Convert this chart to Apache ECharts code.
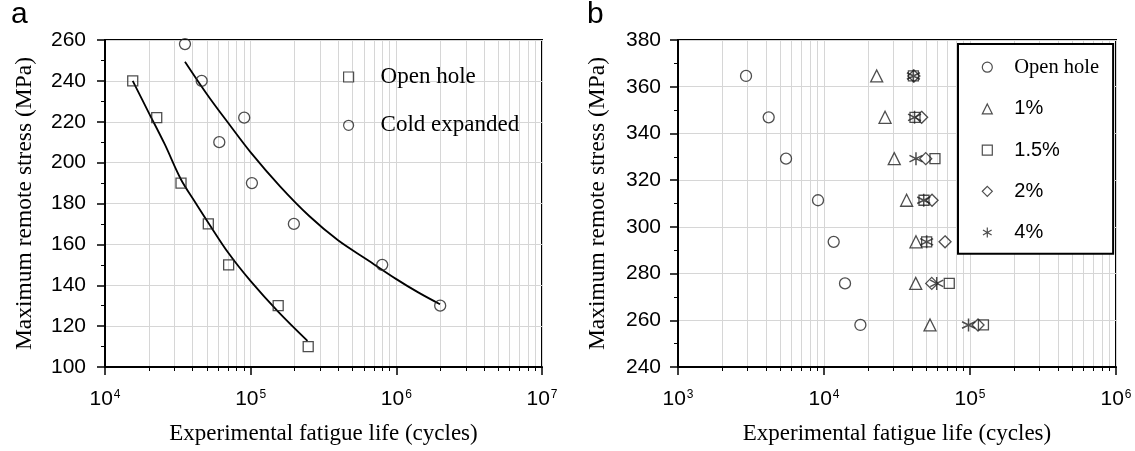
<!DOCTYPE html>
<html>
<head>
<meta charset="utf-8">
<script src="https://cdn.jsdelivr.net/npm/echarts@6/dist/echarts.min.js"></script>
<style>
  html, body { margin: 0; padding: 0; background: #fff; }
  #chart { width: 1135px; height: 451px; }
</style>
</head>
<body>
<div id="chart"></div>
<script>
// ---- Panel a: open hole vs. cold expanded specimens ----
const aOpenLife   = [15500, 22650, 33250, 51200, 70600, 154500, 248300];
const aOpenStress = [240, 222, 190, 170, 150, 130, 110];
const aColdLife   = [35400, 46100, 60900, 90300, 102000, 198000, 800000, 2000000];
const aColdStress = [258, 240, 210, 222, 190, 170, 150, 130];

// fitted S-N curves of panel a
const aOpenFitLife   = [15500, 19950, 25700, 33100, 41700, 51300, 70800, 100000, 154900, 245500];
const aOpenFitStress = [240, 224.5, 209, 192, 180.5, 170.5, 155.5, 142, 127, 112.8];
const aColdFitLife   = [35400, 50100, 70800, 100000, 158500, 251200, 398100, 631000, 1000000, 1413000, 1995000];
const aColdFitStress = [249.4, 233.5, 219, 205, 188.5, 174, 162, 152.5, 143, 136.5, 130.7];

// ---- Panel b: fatigue life per stress level and expansion degree ----
const bStress   = [364.6, 346.9, 329.2, 311.4, 293.6, 275.8, 258.0];
const bOpenHole = [2924, 4180, 5495, 9100, 11650, 13930, 17750];
const bExp1     = [22960, 26190, 30280, 36800, 42660, 42470, 53230];
const bExp15    = [40960, 42000, 57540, 48400, 50470, 72100, 123600];
const bExp2     = [41300, 46630, 49740, 54950, 67460, 54700, 113500];
const bExp4     = [40960, 41700, 42660, 48190, 50470, 59160, 97700];

// axis ranges
const aLifeRange   = [1e4, 1e7];
const aStressRange = [100, 260];
const bLifeRange   = [1e3, 1e6];
const bStressRange = [240, 380];
const stressStep   = 20;

const zip = (xs, ys) => xs.map((x, i) => [x, ys[i]]);

const SERIF = 'Liberation Serif';
const SANS = 'Liberation Sans';
const INK = '#000';
const MARK = '#222';
const GRIDC = '#d6d6d6';
const HOLLOW = 'rgba(255,255,255,0)';
const ASTERISK = 'path://M5,0L5,10M0.67,2.5L9.33,7.5M0.67,7.5L9.33,2.5';

function lifeAxis(gridIndex, range) {
  return {
    type: 'log', logBase: 10, gridIndex,
    min: range[0], max: range[1],
    name: 'Experimental fatigue life (cycles)',
    nameLocation: 'middle', nameGap: 55,
    nameTextStyle: { fontFamily: SERIF, fontSize: 23, color: INK },
    axisLine: { lineStyle: { color: INK, width: 2 } },
    axisTick: { length: 8, lineStyle: { color: INK, width: 1.5 } },
    minorTick: { show: true, splitNumber: 9, length: 4, lineStyle: { color: INK, width: 1 } },
    splitLine: { show: true, lineStyle: { color: GRIDC, width: 1 } },
    minorSplitLine: { show: true, lineStyle: { color: GRIDC, width: 1 } },
    axisLabel: {
      margin: 22, color: INK, fontFamily: SANS, fontSize: 21,
      formatter: v => '10{sup|' + Math.round(Math.log10(v)) + '}',
      rich: { sup: { fontFamily: SANS, fontSize: 12, color: INK, verticalAlign: 'top', padding: [0, 0, 0, 1] } }
    }
  };
}

function stressAxis(gridIndex, range, margin) {
  return {
    type: 'value', gridIndex,
    min: range[0], max: range[1], interval: stressStep,
    name: 'Maximum remote stress (MPa)',
    nameLocation: 'middle', nameGap: 68,
    nameTextStyle: { fontFamily: SERIF, fontSize: 23.5, color: INK },
    axisLine: { show: true, lineStyle: { color: INK, width: 2 } },
    axisTick: { show: true, length: 8, lineStyle: { color: INK, width: 1.5 } },
    minorTick: { show: true, splitNumber: 2, length: 4, lineStyle: { color: INK, width: 1 } },
    splitLine: { show: true, lineStyle: { color: GRIDC, width: 1 } },
    axisLabel: { margin, color: INK, fontFamily: SANS, fontSize: 21 }
  };
}

function marks(name, axis, xs, ys, symbol, size, bw) {
  return {
    type: 'scatter', name, xAxisIndex: axis, yAxisIndex: axis,
    data: zip(xs, ys), symbol, symbolSize: size, z: 5,
    itemStyle: { color: HOLLOW, borderColor: MARK, borderWidth: bw || 1.3 },
    emphasis: { disabled: true }
  };
}

function fit(name, xs, ys) {
  return {
    type: 'line', name, xAxisIndex: 0, yAxisIndex: 0,
    data: zip(xs, ys), smooth: 0.35, showSymbol: false, z: 4,
    lineStyle: { color: INK, width: 1.8 },
    emphasis: { disabled: true }
  };
}

const stripTag = n => n.slice(2);
const legendIconStyle = { color: HOLLOW, borderColor: MARK, borderWidth: 1.2 };

const option = {
  animation: false,
  backgroundColor: '#fff',
  grid: [
    { left: 105, top: 40, width: 437, height: 327, show: true, borderColor: INK, borderWidth: 2, backgroundColor: 'transparent' },
    { left: 678, top: 40, width: 438, height: 327, show: true, borderColor: INK, borderWidth: 2, backgroundColor: 'transparent' }
  ],
  xAxis: [lifeAxis(0, aLifeRange), lifeAxis(1, bLifeRange)],
  yAxis: [stressAxis(0, aStressRange, 19), stressAxis(1, bStressRange, 17)],
  legend: [
    {
      data: ['a:Open hole', 'a:Cold expanded'],
      orient: 'vertical', left: 343, top: 65.5, padding: 0,
      itemWidth: 10, itemHeight: 10, itemGap: 25.3, selectedMode: false,
      itemStyle: legendIconStyle,
      formatter: stripTag,
      textStyle: { fontFamily: SERIF, fontSize: 23, color: INK, padding: [0, 0, 0, 22] }
    },
    {
      data: ['b:Open hole', 'b:1%', 'b:1.5%', 'b:2%', 'b:4%'],
      orient: 'vertical', left: 958, top: 44, padding: [12.7, 14, 11.3, 23.7],
      borderColor: INK, borderWidth: 2, backgroundColor: '#fff',
      itemWidth: 10, itemHeight: 10, itemGap: 21.2, selectedMode: false,
      itemStyle: legendIconStyle,
      formatter: n => n === 'b:Open hole' ? '{serif|' + stripTag(n) + '}' : '{sans|' + stripTag(n) + '}',
      textStyle: {
        color: INK, fontSize: 20, padding: [0, 0, 0, 17],
        rich: {
          serif: { fontFamily: SERIF, fontSize: 20.5, color: INK },
          sans: { fontFamily: SANS, fontSize: 20, color: INK }
        }
      }
    }
  ],
  graphic: [
    { type: 'text', left: 11, top: 0, style: { text: 'a', fontFamily: SANS, fontSize: 30, fill: INK } },
    { type: 'text', left: 587, top: 0, style: { text: 'b', fontFamily: SANS, fontSize: 30, fill: INK } }
  ],
  series: [
    fit('a:Open hole fit', aOpenFitLife, aOpenFitStress),
    fit('a:Cold expanded fit', aColdFitLife, aColdFitStress),
    marks('a:Open hole', 0, aOpenLife, aOpenStress, 'rect', 10),
    marks('a:Cold expanded', 0, aColdLife, aColdStress, 'circle', 11),
    marks('b:Open hole', 1, bOpenHole, bStress, 'circle', 11),
    marks('b:1%', 1, bExp1, bStress, 'triangle', 12),
    marks('b:1.5%', 1, bExp15, bStress, 'rect', 10),
    marks('b:2%', 1, bExp2, bStress, 'diamond', 12),
    marks('b:4%', 1, bExp4, bStress, ASTERISK, 13, 1.5)
  ]
};

const chart = echarts.init(document.getElementById('chart'), null, { renderer: 'canvas' });
chart.setOption(option);
</script>
</body>
</html>
